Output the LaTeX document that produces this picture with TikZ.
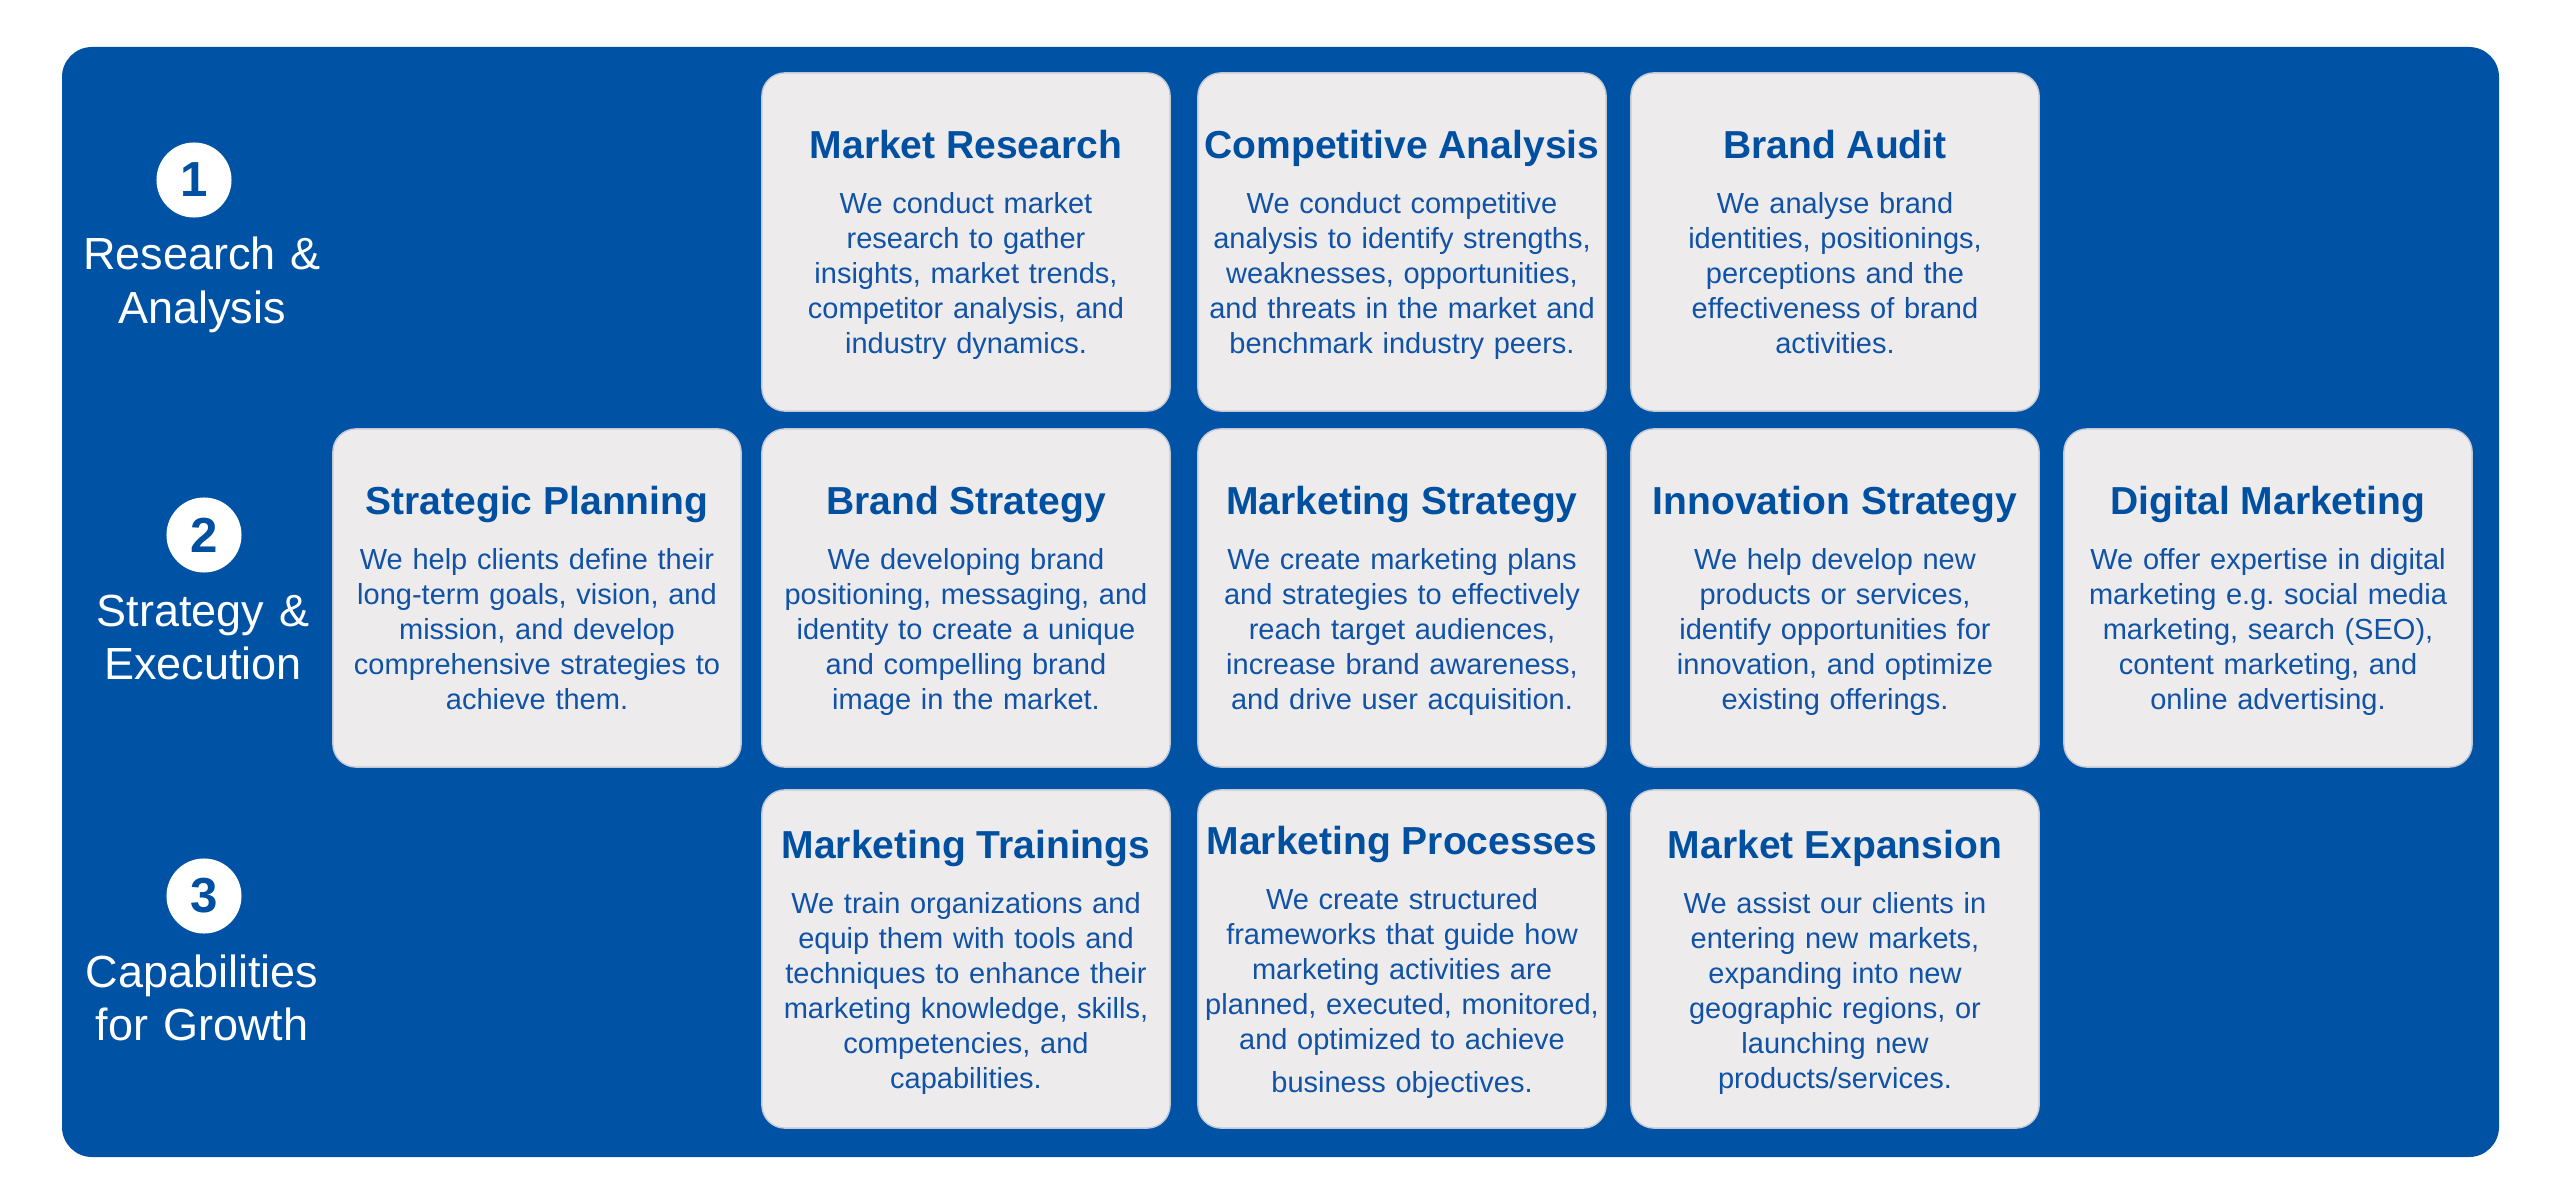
\documentclass[tikz,border=0pt]{standalone}
\usepackage{fontspec}
\setmainfont{Liberation Sans}
\frenchspacing
\definecolor{bgblue}{HTML}{0052A5}
\definecolor{boxgray}{HTML}{EDEBEC}
\definecolor{boxedge}{HTML}{C3CAD6}
\definecolor{titleblue}{HTML}{0050A2}
\definecolor{bodyblue}{HTML}{0F52A6}
\tikzset{
  panel/.style={fill=bgblue, draw=none, rounded corners=0.3cm},
  svcbox/.style={draw=boxedge, line width=0.4pt, fill=boxgray, rounded corners=0.23cm,
    minimum width=4.08cm, minimum height=3.38cm, inner sep=0pt},
  svctitle/.style={anchor=base, inner sep=0pt, text=titleblue,
    font=\fontsize{11.1pt}{13pt}\selectfont\bfseries},
  svcbody/.style={anchor=base, inner sep=0pt, text=bodyblue, text width=4.0cm, align=center,
    font=\fontsize{8.25pt}{9.96pt}\selectfont},
  numcircle/.style={circle, fill=white, draw=none, minimum size=0.75cm, inner sep=0pt,
    text=titleblue, font=\fontsize{14pt}{16pt}\selectfont\bfseries},
  phaselabel/.style={anchor=base, inner sep=0pt, text=white, text width=3cm, align=center,
    font=\fontsize{12.8pt}{15.08pt}\selectfont},
}
% #1 name, #2 centre x, #3 centre y, #4 title baseline y, #5 title, #6 body
\newcommand\svcitem[6]{%
  \node[svcbox] (#1) at (#2,#3) {};
  \node[svctitle] (#1-t) at (#2,#4) {#5};
  \node[svcbody] (#1-d) at (#2,#4+55) {#6};
}
\begin{document}
\begin{tikzpicture}[x=0.01cm, y=-0.01cm]
  \path[fill=white] (0,0) rectangle (2560,1194);
  \useasboundingbox (0,0) rectangle (2560,1194);
  \fill[panel] (62,47) rectangle (2499,1157);

  % phase labels
  \node[numcircle] (n1) at (194,180) {1};
  \node[phaselabel] (p1) at (202,270) {Research \&\\Analysis};
  \node[numcircle] (n2) at (204,535) {2};
  \node[phaselabel] (p2) at (203,626) {Strategy \&\\Execution};
  \node[numcircle] (n3) at (204,896) {3};
  \node[phaselabel] (p3) at (202,987) {Capabilities\\for Growth};

  % row 1
  \svcitem{mr}{966}{242}{158.5}{Market Research}{We conduct market\\research to gather\\insights, market trends,\\competitor analysis, and\\industry dynamics.}
  \svcitem{ca}{1402}{242}{158.5}{Competitive Analysis}{We conduct competitive\\analysis to identify strengths,\\weaknesses, opportunities,\\and threats in the market and\\benchmark industry peers.}
  \svcitem{ba}{1835}{242}{158.5}{Brand Audit}{We analyse brand\\identities, positionings,\\perceptions and the\\effectiveness of brand\\activities.}

  % row 2
  \svcitem{sp}{537}{598}{514.5}{Strategic Planning}{We help clients define their\\long-term goals, vision, and\\mission, and develop\\comprehensive strategies to\\achieve them.}
  \svcitem{bs}{966}{598}{514.5}{Brand Strategy}{We developing brand\\positioning, messaging, and\\identity to create a unique\\and compelling brand\\image in the market.}
  \svcitem{ms}{1402}{598}{514.5}{Marketing Strategy}{We create marketing plans\\and strategies to effectively\\reach target audiences,\\increase brand awareness,\\and drive user acquisition.}
  \svcitem{is}{1835}{598}{514.5}{Innovation Strategy}{We help develop new\\products or services,\\identify opportunities for\\innovation, and optimize\\existing offerings.}
  \svcitem{dm}{2268}{598}{514.5}{Digital Marketing}{We offer expertise in digital\\marketing e.g. social media\\marketing, search (SEO),\\content marketing, and\\online advertising.}

  % row 3
  \svcitem{mt}{966}{959}{858}{Marketing Trainings}{We train organizations and\\equip them with tools and\\techniques to enhance their\\marketing knowledge, skills,\\competencies, and\\capabilities.}
  \svcitem{mp}{1402}{959}{854}{Marketing Processes}{We create structured\\frameworks that guide how\\marketing activities are\\planned, executed, monitored,\\and optimized to achieve\\[2.3pt]business objectives.}
  \svcitem{me}{1835}{959}{858}{Market Expansion}{We assist our clients in\\entering new markets,\\expanding into new\\geographic regions, or\\launching new\\products/services.}
\end{tikzpicture}
\end{document}
